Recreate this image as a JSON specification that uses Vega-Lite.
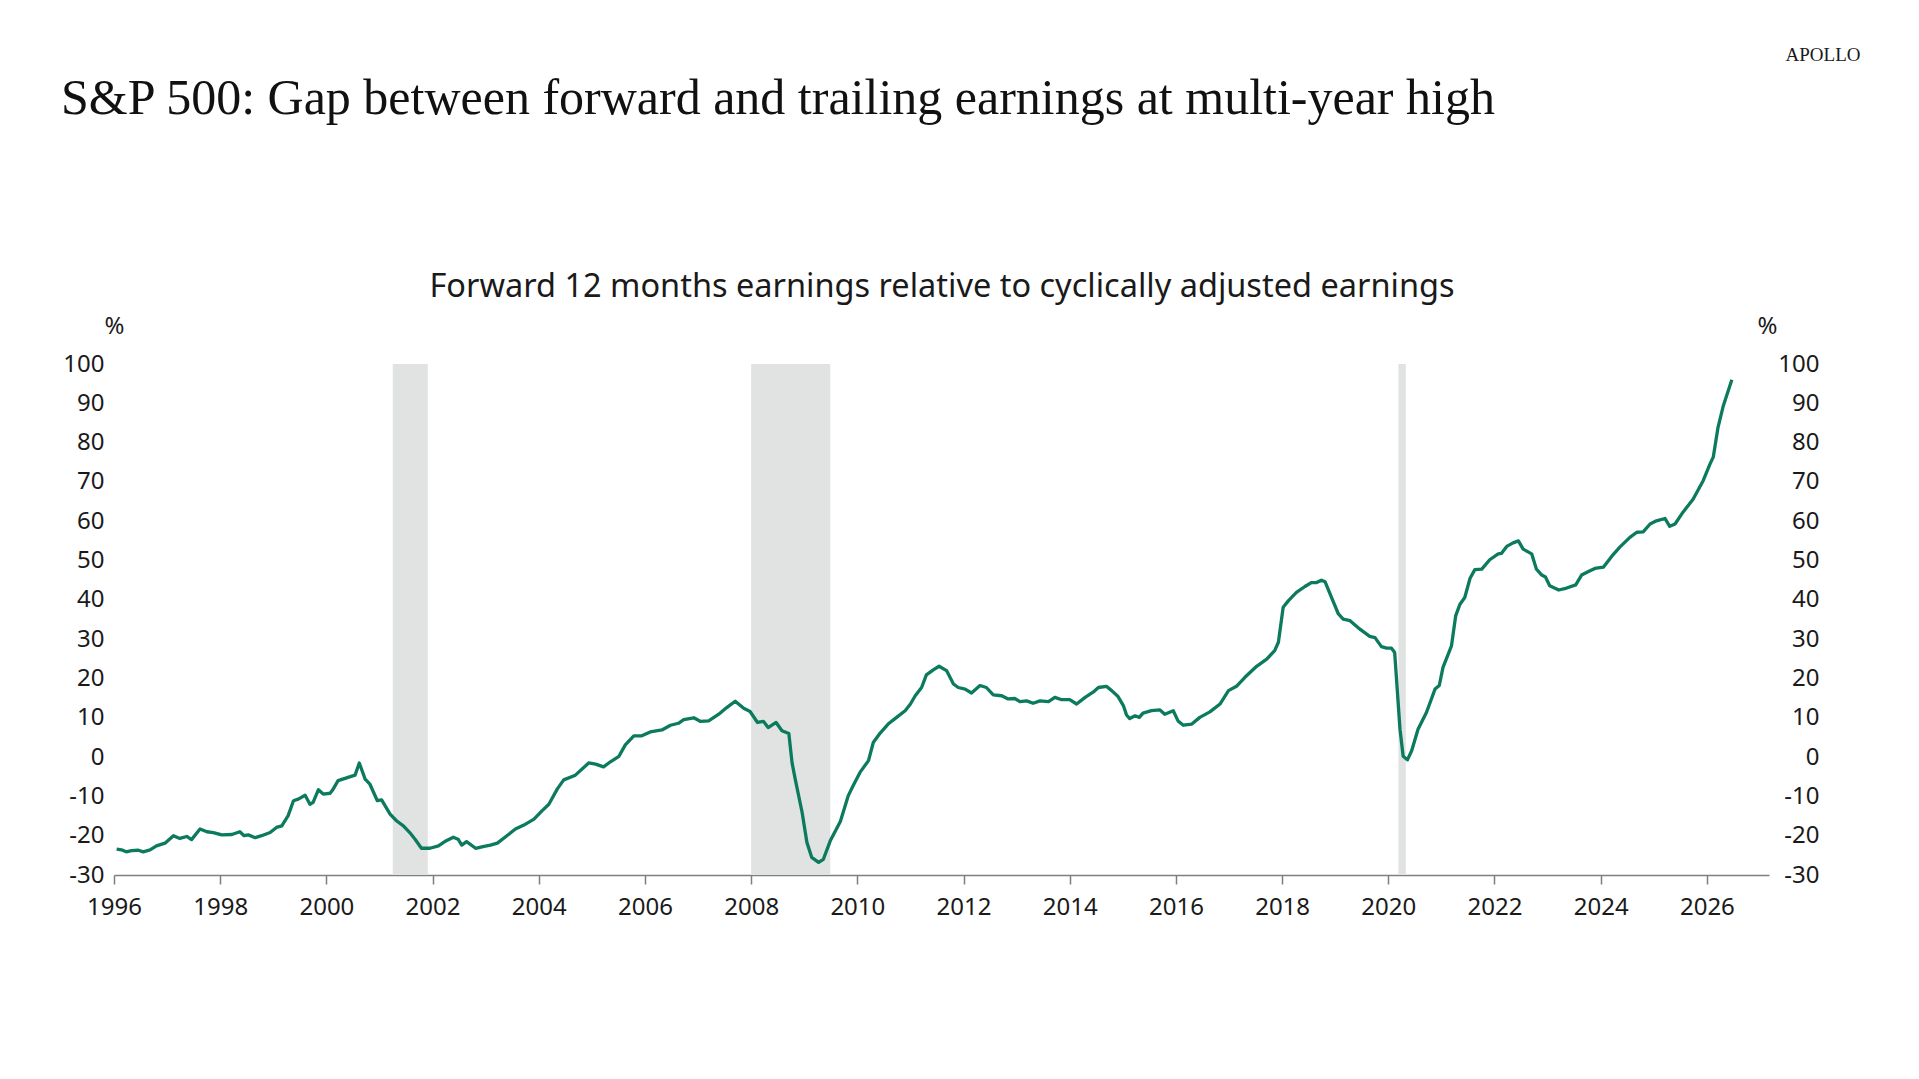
{
  "$schema": "https://vega.github.io/schema/vega-lite/v6.json",
  "width": 1655,
  "height": 511,
  "autosize": {"type": "none"},
  "padding": {"left": 114, "top": 364, "right": 150, "bottom": 204},
  "background": "#ffffff",
  "title": {
    "text": "S&P 500: Gap between forward and trailing earnings at multi-year high",
    "anchor": "start",
    "frame": "group",
    "dx": -53,
    "dy": 119,
    "offset": 0,
    "baseline": "alphabetic",
    "font": "Liberation Serif",
    "fontSize": 50,
    "fontWeight": "normal",
    "color": "#111111"
  },
  "config": {
    "view": {"stroke": null},
    "font": "Noto Sans"
  },
  "datasets": {
    "recessions": [
      {"start": 2001.25, "end": 2001.91},
      {"start": 2008.0, "end": 2009.49},
      {"start": 2020.19, "end": 2020.33}
    ],
    "series": [
      {"year": 1996.05, "value": -23.4},
      {"year": 1996.14, "value": -23.6},
      {"year": 1996.23, "value": -24.1},
      {"year": 1996.33, "value": -23.8},
      {"year": 1996.46, "value": -23.7},
      {"year": 1996.55, "value": -24.1},
      {"year": 1996.68, "value": -23.6},
      {"year": 1996.8, "value": -22.6},
      {"year": 1996.96, "value": -21.9},
      {"year": 1997.12, "value": -20.0},
      {"year": 1997.24, "value": -20.7},
      {"year": 1997.37, "value": -20.2},
      {"year": 1997.46, "value": -21.0},
      {"year": 1997.62, "value": -18.3},
      {"year": 1997.75, "value": -19.0},
      {"year": 1997.87, "value": -19.2},
      {"year": 1998.03, "value": -19.8},
      {"year": 1998.22, "value": -19.7},
      {"year": 1998.37, "value": -19.0},
      {"year": 1998.45, "value": -20.0},
      {"year": 1998.53, "value": -19.8},
      {"year": 1998.66, "value": -20.5},
      {"year": 1998.78, "value": -20.0},
      {"year": 1998.94, "value": -19.2},
      {"year": 1999.06, "value": -17.9},
      {"year": 1999.16, "value": -17.5},
      {"year": 1999.28, "value": -14.9},
      {"year": 1999.38, "value": -11.1},
      {"year": 1999.47, "value": -10.7},
      {"year": 1999.6, "value": -9.7},
      {"year": 1999.69, "value": -12.0},
      {"year": 1999.75, "value": -11.5},
      {"year": 1999.85, "value": -8.3},
      {"year": 1999.94, "value": -9.4},
      {"year": 2000.07, "value": -9.2},
      {"year": 2000.13, "value": -8.1},
      {"year": 2000.22, "value": -6.0},
      {"year": 2000.38, "value": -5.3},
      {"year": 2000.54, "value": -4.6},
      {"year": 2000.62, "value": -1.5},
      {"year": 2000.73, "value": -5.6},
      {"year": 2000.82, "value": -6.9},
      {"year": 2000.96, "value": -11.1},
      {"year": 2001.04, "value": -10.9},
      {"year": 2001.2, "value": -14.5},
      {"year": 2001.32, "value": -16.2},
      {"year": 2001.45, "value": -17.5},
      {"year": 2001.57, "value": -19.2},
      {"year": 2001.67, "value": -20.9},
      {"year": 2001.79, "value": -23.2},
      {"year": 2001.95, "value": -23.2},
      {"year": 2002.11, "value": -22.6},
      {"year": 2002.23, "value": -21.5},
      {"year": 2002.39, "value": -20.4},
      {"year": 2002.48, "value": -20.9},
      {"year": 2002.55, "value": -22.4},
      {"year": 2002.64, "value": -21.5},
      {"year": 2002.81, "value": -23.2},
      {"year": 2002.97, "value": -22.7},
      {"year": 2003.09, "value": -22.4},
      {"year": 2003.22, "value": -21.9},
      {"year": 2003.4, "value": -20.0},
      {"year": 2003.56, "value": -18.3},
      {"year": 2003.72, "value": -17.3},
      {"year": 2003.91, "value": -15.8},
      {"year": 2004.06, "value": -13.7},
      {"year": 2004.19, "value": -12.0},
      {"year": 2004.35, "value": -8.1},
      {"year": 2004.47, "value": -5.8},
      {"year": 2004.69, "value": -4.6},
      {"year": 2004.94, "value": -1.5},
      {"year": 2005.07, "value": -1.8},
      {"year": 2005.22, "value": -2.5},
      {"year": 2005.35, "value": -1.2},
      {"year": 2005.51, "value": 0.2},
      {"year": 2005.63, "value": 3.1},
      {"year": 2005.79, "value": 5.4},
      {"year": 2005.94, "value": 5.4},
      {"year": 2006.1, "value": 6.4},
      {"year": 2006.32, "value": 6.9},
      {"year": 2006.48, "value": 8.1},
      {"year": 2006.63, "value": 8.6},
      {"year": 2006.73, "value": 9.5},
      {"year": 2006.92, "value": 10.0},
      {"year": 2007.04, "value": 9.1},
      {"year": 2007.2, "value": 9.2},
      {"year": 2007.39, "value": 10.9},
      {"year": 2007.54, "value": 12.6},
      {"year": 2007.7, "value": 14.2},
      {"year": 2007.86, "value": 12.4},
      {"year": 2007.98, "value": 11.6},
      {"year": 2008.12, "value": 8.8},
      {"year": 2008.23, "value": 9.1},
      {"year": 2008.32, "value": 7.5},
      {"year": 2008.47, "value": 8.8},
      {"year": 2008.58, "value": 6.7},
      {"year": 2008.71, "value": 6.0},
      {"year": 2008.77, "value": -1.4},
      {"year": 2008.83, "value": -5.6},
      {"year": 2008.96, "value": -14.1},
      {"year": 2009.05, "value": -21.7},
      {"year": 2009.14, "value": -25.5},
      {"year": 2009.27, "value": -26.8},
      {"year": 2009.36, "value": -26.0},
      {"year": 2009.49, "value": -21.3},
      {"year": 2009.68, "value": -16.4},
      {"year": 2009.83, "value": -9.8},
      {"year": 2009.92, "value": -7.3},
      {"year": 2010.05, "value": -3.9},
      {"year": 2010.21, "value": -0.9},
      {"year": 2010.3, "value": 3.7},
      {"year": 2010.43, "value": 6.1},
      {"year": 2010.58, "value": 8.4},
      {"year": 2010.74, "value": 10.1},
      {"year": 2010.9, "value": 11.8},
      {"year": 2011.0, "value": 13.5},
      {"year": 2011.09, "value": 15.6},
      {"year": 2011.21, "value": 17.7},
      {"year": 2011.3, "value": 20.9},
      {"year": 2011.43, "value": 22.2},
      {"year": 2011.54, "value": 23.1},
      {"year": 2011.68, "value": 22.0},
      {"year": 2011.81, "value": 18.6},
      {"year": 2011.9, "value": 17.7},
      {"year": 2012.03, "value": 17.3},
      {"year": 2012.15, "value": 16.3},
      {"year": 2012.31, "value": 18.2},
      {"year": 2012.43, "value": 17.7},
      {"year": 2012.56, "value": 15.8},
      {"year": 2012.72, "value": 15.6},
      {"year": 2012.84, "value": 14.8},
      {"year": 2012.97, "value": 14.9},
      {"year": 2013.06, "value": 14.1},
      {"year": 2013.19, "value": 14.3},
      {"year": 2013.31, "value": 13.7},
      {"year": 2013.44, "value": 14.3},
      {"year": 2013.6, "value": 14.1},
      {"year": 2013.72, "value": 15.2},
      {"year": 2013.85, "value": 14.6},
      {"year": 2014.0, "value": 14.6},
      {"year": 2014.13, "value": 13.5},
      {"year": 2014.29, "value": 15.2},
      {"year": 2014.44, "value": 16.5},
      {"year": 2014.54, "value": 17.7},
      {"year": 2014.69, "value": 18.0},
      {"year": 2014.79, "value": 16.9},
      {"year": 2014.91, "value": 15.4},
      {"year": 2015.01, "value": 13.1},
      {"year": 2015.07, "value": 10.7},
      {"year": 2015.13, "value": 9.8},
      {"year": 2015.23, "value": 10.5},
      {"year": 2015.31, "value": 10.1},
      {"year": 2015.38, "value": 11.2},
      {"year": 2015.54, "value": 11.8},
      {"year": 2015.7, "value": 12.0},
      {"year": 2015.79, "value": 10.9},
      {"year": 2015.95, "value": 11.8},
      {"year": 2016.04, "value": 9.2},
      {"year": 2016.14, "value": 8.1},
      {"year": 2016.3, "value": 8.4},
      {"year": 2016.45, "value": 10.1},
      {"year": 2016.64, "value": 11.5},
      {"year": 2016.83, "value": 13.5},
      {"year": 2016.99, "value": 16.9},
      {"year": 2017.14, "value": 18.0},
      {"year": 2017.3, "value": 20.3},
      {"year": 2017.52, "value": 23.1},
      {"year": 2017.71, "value": 24.9},
      {"year": 2017.86, "value": 27.1},
      {"year": 2017.93, "value": 29.2},
      {"year": 2018.02, "value": 38.1},
      {"year": 2018.12, "value": 39.8},
      {"year": 2018.27, "value": 41.9},
      {"year": 2018.43, "value": 43.4},
      {"year": 2018.55, "value": 44.4},
      {"year": 2018.65, "value": 44.4},
      {"year": 2018.74, "value": 45.0},
      {"year": 2018.81, "value": 44.6},
      {"year": 2018.93, "value": 40.6},
      {"year": 2019.06, "value": 36.4},
      {"year": 2019.15, "value": 35.1},
      {"year": 2019.28, "value": 34.7},
      {"year": 2019.46, "value": 32.6},
      {"year": 2019.65, "value": 30.7},
      {"year": 2019.75, "value": 30.4},
      {"year": 2019.87, "value": 28.1},
      {"year": 2019.97, "value": 27.7},
      {"year": 2020.06, "value": 27.7},
      {"year": 2020.12, "value": 26.6},
      {"year": 2020.22, "value": 7.1},
      {"year": 2020.28, "value": 0.2},
      {"year": 2020.36, "value": -0.7},
      {"year": 2020.44, "value": 1.6},
      {"year": 2020.56, "value": 7.1},
      {"year": 2020.72, "value": 11.4},
      {"year": 2020.88, "value": 17.3},
      {"year": 2020.96, "value": 18.2},
      {"year": 2021.03, "value": 22.8},
      {"year": 2021.19, "value": 28.3},
      {"year": 2021.27, "value": 36.0},
      {"year": 2021.35, "value": 38.9},
      {"year": 2021.44, "value": 40.6},
      {"year": 2021.54, "value": 45.5},
      {"year": 2021.63, "value": 47.7},
      {"year": 2021.76, "value": 47.8},
      {"year": 2021.91, "value": 50.2},
      {"year": 2022.07, "value": 51.7},
      {"year": 2022.13, "value": 51.8},
      {"year": 2022.23, "value": 53.6},
      {"year": 2022.35, "value": 54.5},
      {"year": 2022.45, "value": 55.0},
      {"year": 2022.54, "value": 52.9},
      {"year": 2022.7, "value": 51.7},
      {"year": 2022.79, "value": 47.8},
      {"year": 2022.89, "value": 46.3},
      {"year": 2022.96, "value": 45.8},
      {"year": 2023.04, "value": 43.6},
      {"year": 2023.21, "value": 42.5},
      {"year": 2023.36, "value": 43.0},
      {"year": 2023.53, "value": 43.8},
      {"year": 2023.64, "value": 46.3},
      {"year": 2023.77, "value": 47.2},
      {"year": 2023.89, "value": 48.0},
      {"year": 2024.05, "value": 48.3},
      {"year": 2024.21, "value": 51.1},
      {"year": 2024.36, "value": 53.4},
      {"year": 2024.55, "value": 55.9},
      {"year": 2024.68, "value": 57.2},
      {"year": 2024.8, "value": 57.3},
      {"year": 2024.93, "value": 59.3},
      {"year": 2025.05, "value": 60.1},
      {"year": 2025.21, "value": 60.7},
      {"year": 2025.3, "value": 58.7},
      {"year": 2025.4, "value": 59.3},
      {"year": 2025.55, "value": 62.3},
      {"year": 2025.74, "value": 65.6},
      {"year": 2025.93, "value": 70.3},
      {"year": 2026.06, "value": 74.6},
      {"year": 2026.12, "value": 76.3},
      {"year": 2026.21, "value": 83.9},
      {"year": 2026.31, "value": 89.4},
      {"year": 2026.47, "value": 96.0}
    ]
  },
  "layer": [
    {
      "data": {"name": "recessions"},
      "mark": {"type": "rect", "color": "#e1e3e2"},
      "encoding": {
        "x": {
          "field": "start",
          "type": "quantitative",
          "scale": {"domain": [1996, 2027.17], "nice": false, "zero": false},
          "axis": {
            "orient": "bottom",
            "values": [1996, 1998, 2000, 2002, 2004, 2006, 2008, 2010, 2012, 2014, 2016, 2018, 2020, 2022, 2024, 2026],
            "format": "d",
            "grid": false,
            "domainColor": "#7f7f7f",
            "domainWidth": 1.5,
            "tickColor": "#7f7f7f",
            "tickWidth": 1.5,
            "tickSize": 9,
            "labelFont": "Noto Sans",
            "labelFontSize": 24,
            "labelColor": "#1a1a1a",
            "labelPadding": 11,
            "labelFlush": false,
            "labelOverlap": false,
            "title": "APOLLO",
            "titleFont": "Liberation Serif",
            "titleFontSize": 19,
            "titleFontWeight": "normal",
            "titleColor": "#1a1a1a",
            "titleAngle": 0,
            "titleAlign": "right",
            "titleBaseline": "alphabetic",
            "titleX": 1746,
            "titleY": -815
          }
        },
        "x2": {"field": "end"}
      }
    },
    {
      "mark": {"type": "rule", "color": "#7f7f7f", "strokeWidth": 1.5},
      "encoding": {
        "y": {
          "datum": 0,
          "type": "quantitative",
          "scale": {"domain": [-30, 100], "nice": false, "zero": false},
          "axis": {
            "orient": "left",
            "values": [-30, -20, -10, 0, 10, 20, 30, 40, 50, 60, 70, 80, 90, 100],
            "labelExpr": "datum.value < 0 ? '-' + abs(datum.value) : '' + datum.value",
            "domain": false,
            "ticks": false,
            "grid": false,
            "labelFont": "Noto Sans",
            "labelFontSize": 24,
            "labelColor": "#1a1a1a",
            "labelPadding": 10,
            "title": "%",
            "titleFont": "Noto Sans",
            "titleFontSize": 24,
            "titleFontWeight": "normal",
            "titleColor": "#1a1a1a",
            "titleAngle": 0,
            "titleAlign": "center",
            "titleBaseline": "middle",
            "titleX": 0,
            "titleY": -38
          }
        }
      }
    },
    {
      "data": {"name": "series"},
      "mark": {"type": "line", "color": "#0b7a5d", "strokeWidth": 3.3, "strokeJoin": "round"},
      "encoding": {
        "x": {
          "field": "year",
          "type": "quantitative",
          "scale": {"domain": [1996, 2027.17], "nice": false, "zero": false},
          "axis": {
            "orient": "top",
            "domain": false,
            "ticks": false,
            "labels": false,
            "grid": false,
            "title": "Forward 12 months earnings relative to cyclically adjusted earnings",
            "titleFont": "Noto Sans",
            "titleFontSize": 32.5,
            "titleFontWeight": "normal",
            "titleColor": "#1a1a1a",
            "titleBaseline": "alphabetic",
            "titleY": -68
          }
        },
        "y": {
          "field": "value",
          "type": "quantitative",
          "scale": {"domain": [-30, 100], "nice": false, "zero": false},
          "axis": {
            "orient": "right",
            "values": [-30, -20, -10, 0, 10, 20, 30, 40, 50, 60, 70, 80, 90, 100],
            "labelExpr": "datum.value < 0 ? '-' + abs(datum.value) : '' + datum.value",
            "domain": false,
            "ticks": false,
            "grid": false,
            "labelFont": "Noto Sans",
            "labelFontSize": 24,
            "labelColor": "#1a1a1a",
            "labelAlign": "right",
            "labelPadding": 50,
            "title": "%",
            "titleFont": "Noto Sans",
            "titleFontSize": 24,
            "titleFontWeight": "normal",
            "titleColor": "#1a1a1a",
            "titleAngle": 0,
            "titleAlign": "center",
            "titleBaseline": "middle",
            "titleX": -2,
            "titleY": -38
          }
        }
      }
    }
  ],
  "resolve": {"axis": {"x": "independent", "y": "independent"}}
}
